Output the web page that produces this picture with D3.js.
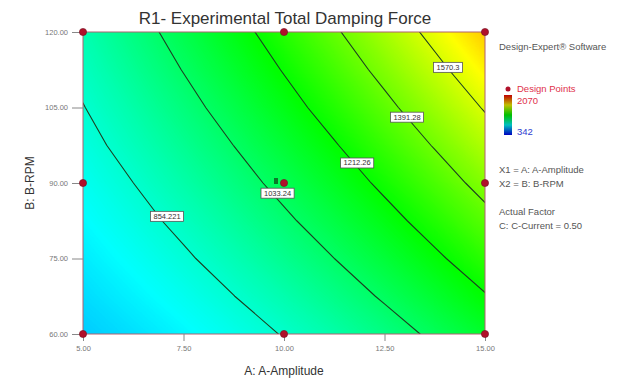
<!DOCTYPE html>
<html>
<head>
<meta charset="utf-8">
<script src="https://cdn.jsdelivr.net/npm/d3@7"></script>
<style>
  body { margin: 0; background: #fff; }
  text { font-family: "Liberation Sans", Arial, sans-serif; }
</style>
</head>
<body>
<div id="chart"></div>
<script>
// Response grid: rows are B-RPM levels, columns A-Amplitude levels
var ampLevels = [5, 6.25, 7.5, 8.75, 10, 11.25, 12.5, 13.75, 15];
var rpmLevels = [60, 67.5, 75, 82.5, 90, 97.5, 105, 112.5, 120];
var forceGrid = [
    [686, 721, 761, 808, 860, 919, 983, 1054, 1130],
    [714, 754, 800, 853, 911, 976, 1046, 1123, 1205],
    [741, 787, 840, 898, 963, 1033, 1109, 1192, 1280],
    [769, 821, 879, 943, 1014, 1090, 1172, 1261, 1355],
    [796, 854, 919, 989, 1065, 1147, 1236, 1330, 1430],
    [824, 888, 958, 1034, 1116, 1204, 1299, 1399, 1505],
    [851, 921, 997, 1079, 1168, 1262, 1362, 1468, 1580],
    [879, 955, 1037, 1125, 1219, 1319, 1425, 1537, 1655],
    [906, 988, 1076, 1170, 1270, 1376, 1488, 1606, 1730]
];

// contour levels and where their labels sit (A, B)
var contourLevels = [854.221, 1033.24, 1212.26, 1391.28, 1570.3];
var labelText = ["854.221", "1033.24", "1212.26", "1391.28", "1570.3"];
var labelA = [7.09, 9.84, 11.82, 13.06, 14.08];
var labelB = [83.4, 88.0, 94.0, 103.1, 113.0];

// design points
var pointA = [5, 10, 15, 5, 15, 5, 10, 15, 10];
var pointB = [60, 60, 60, 90, 90, 120, 120, 120, 90];

var xTicks = [5, 7.5, 10, 12.5, 15];
var yTicks = [60, 75, 90, 105, 120];
var colorMin = 342, colorMax = 2070;

var width = 637, height = 379;
var plot = {left: 83, right: 485, top: 32, bottom: 334};

var svg = d3.select("#chart").append("svg")
    .attr("width", width)
    .attr("height", height);

var x = d3.scaleLinear().domain([5, 15]).range([plot.left, plot.right]);
var y = d3.scaleLinear().domain([60, 120]).range([plot.bottom, plot.top]);

// grid cell coordinates from d3.contours -> pixels (samples sit at i + 0.5)
var n = ampLevels.length, m = rpmLevels.length;
var gx = d3.scaleLinear().domain([0.5, n - 0.5]).range([x(ampLevels[0]), x(ampLevels[n - 1])]);
var gy = d3.scaleLinear().domain([0.5, m - 0.5]).range([y(rpmLevels[0]), y(rpmLevels[m - 1])]);

var values = [];
for (let j = 0; j < m; j++) {
    for (let i = 0; i < n; i++) {
        values.push(forceGrid[j][i]);
    }
}

var color = d3.scaleLinear()
    .domain(d3.range(5).map(function(k) { return colorMin + k * (colorMax - colorMin) / 4; }))
    .range(["#0000ff", "#00ffff", "#00ff00", "#ffff00", "#ff0000"]);

function toScreen(geom) {
    return {
        type: geom.type,
        value: geom.value,
        coordinates: geom.coordinates.map(function(poly) {
            return poly.map(function(ring) {
                return ring.map(function(p) { return [gx(p[0]), gy(p[1])]; });
            });
        })
    };
}
var path = d3.geoPath();

svg.append("clipPath").attr("id", "plotclip")
    .append("rect")
    .attr("x", plot.left).attr("y", plot.top)
    .attr("width", plot.right - plot.left)
    .attr("height", plot.bottom - plot.top);

var area = svg.append("g").attr("clip-path", "url(#plotclip)");

// colour fill: many thin bands
var minV = d3.min(values), maxV = d3.max(values);
area.append("rect")
    .attr("x", plot.left).attr("y", plot.top)
    .attr("width", plot.right - plot.left)
    .attr("height", plot.bottom - plot.top)
    .attr("fill", color(minV));

var bandLevels = d3.range(minV, maxV, 4);
var bands = d3.contours().size([n, m]).thresholds(bandLevels)(values);
area.selectAll("path.band")
    .data(bands)
    .enter().append("path")
    .attr("class", "band")
    .attr("d", function(d) { return path(toScreen(d)); })
    .attr("fill", function(d) { return color(d.value + 2); })
    .attr("stroke", function(d) { return color(d.value + 2); })
    .attr("stroke-width", 0.6);

// contour lines
var lines = d3.contours().size([n, m]).thresholds(contourLevels)(values);
area.selectAll("path.iso")
    .data(lines)
    .enter().append("path")
    .attr("class", "iso")
    .attr("d", function(d) { return path(toScreen(d)); })
    .attr("fill", "none")
    .attr("stroke", "#1c3f20")
    .attr("stroke-width", 1.1);

// frame
svg.append("rect")
    .attr("x", plot.left).attr("y", plot.top)
    .attr("width", plot.right - plot.left)
    .attr("height", plot.bottom - plot.top)
    .attr("fill", "none")
    .attr("stroke", "#b06070")
    .attr("stroke-width", 1);

// axes
var xAxis = svg.append("g")
    .attr("transform", "translate(0," + plot.bottom + ")")
    .call(d3.axisBottom(x).tickValues(xTicks).tickFormat(d3.format(".2f")).tickSize(7).tickPadding(5));
var yAxis = svg.append("g")
    .attr("transform", "translate(" + plot.left + ",0)")
    .call(d3.axisLeft(y).tickValues(yTicks).tickFormat(d3.format(".2f")).tickSize(11).tickPadding(4));
[xAxis, yAxis].forEach(function(ax) {
    ax.select(".domain").remove();
    ax.selectAll(".tick line").attr("stroke", "#888");
    ax.selectAll(".tick text")
        .attr("fill", "#777")
        .style("font-size", "7.5px")
        .style("font-family", "Liberation Sans, Arial, sans-serif");
});

// contour labels
var labels = svg.append("g");
for (let k = 0; k < contourLevels.length; k++) {
    let g = labels.append("g")
        .attr("transform", "translate(" + x(labelA[k]) + "," + y(labelB[k]) + ")");
    let t = g.append("text")
        .attr("text-anchor", "middle")
        .attr("dy", "0.35em")
        .style("font-size", "7.5px")
        .attr("fill", "#333")
        .text(labelText[k]);
    let bb = t.node().getBBox();
    g.insert("rect", "text")
        .attr("x", bb.x - 3).attr("y", bb.y - 0.5)
        .attr("width", bb.width + 6).attr("height", bb.height + 1)
        .attr("fill", "#fff")
        .attr("stroke", "#555")
        .attr("stroke-width", 0.8);
}

// design points
svg.append("rect")
    .attr("x", x(10) - 10).attr("y", y(90) - 5)
    .attr("width", 4).attr("height", 6)
    .attr("fill", "#0a7a2a");
svg.selectAll("circle.pt")
    .data(d3.range(pointA.length))
    .enter().append("circle")
    .attr("class", "pt")
    .attr("cx", function(i) { return x(pointA[i]); })
    .attr("cy", function(i) { return y(pointB[i]); })
    .attr("r", 3.6)
    .attr("fill", "#b0102a")
    .attr("stroke", "#701020")
    .attr("stroke-width", 0.6);

// title and axis titles
svg.append("text")
    .attr("x", 285).attr("y", 24)
    .attr("text-anchor", "middle")
    .style("font-size", "17px")
    .attr("fill", "#333")
    .text("R1- Experimental Total Damping Force");

svg.append("text")
    .attr("x", (plot.left + plot.right) / 2).attr("y", 375)
    .attr("text-anchor", "middle")
    .style("font-size", "12px")
    .attr("fill", "#333")
    .text("A: A-Amplitude");

svg.append("text")
    .attr("transform", "translate(34," + ((plot.top + plot.bottom) / 2) + ") rotate(-90)")
    .attr("text-anchor", "middle")
    .style("font-size", "12px")
    .attr("fill", "#333")
    .text("B: B-RPM");

// legend
var legend = svg.append("g").attr("transform", "translate(499,0)");
legend.append("text").attr("x", 0).attr("y", 50)
    .style("font-size", "9.5px").attr("fill", "#555")
    .text("Design-Expert\u00ae Software");

legend.append("circle").attr("cx", 9).attr("cy", 89).attr("r", 2.5).attr("fill", "#b0102a");
legend.append("text").attr("x", 18).attr("y", 92)
    .style("font-size", "9.5px").attr("fill", "#e0304a")
    .text("Design Points");

var grad = svg.append("defs").append("linearGradient")
    .attr("id", "legendgrad")
    .attr("x1", 0).attr("y1", 1).attr("x2", 0).attr("y2", 0);
d3.range(5).forEach(function(k) {
    grad.append("stop")
        .attr("offset", k / 4)
        .attr("stop-color", ["#0000c0", "#00c0c0", "#00c000", "#c0c000", "#c00000"][k]);
});
legend.append("rect")
    .attr("x", 5).attr("y", 95).attr("width", 8).attr("height", 40)
    .attr("fill", "url(#legendgrad)");
legend.append("text").attr("x", 18).attr("y", 104)
    .style("font-size", "9.5px").attr("fill", "#e0304a")
    .text(colorMax);
legend.append("text").attr("x", 18).attr("y", 135)
    .style("font-size", "9.5px").attr("fill", "#3040d0")
    .text(colorMin);

var legendLines = ["X1 = A: A-Amplitude", "X2 = B: B-RPM", "", "Actual Factor", "C: C-Current = 0.50"];
var legendY = [173, 187, 0, 215, 229];
legendLines.forEach(function(s, i) {
    if (!s) return;
    legend.append("text").attr("x", 0).attr("y", legendY[i])
        .style("font-size", "9.5px").attr("fill", "#555")
        .text(s);
});
</script>
</body>
</html>
